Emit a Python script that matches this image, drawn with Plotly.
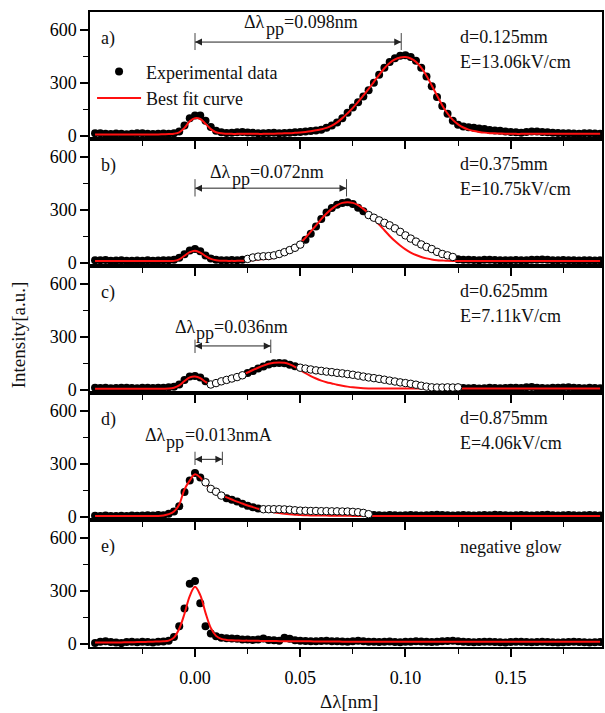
import plotly.graph_objects as go
from plotly.subplots import make_subplots

# ---------------- data ----------------
DL = [-0.0475, -0.045, -0.0425, -0.04, -0.0375, -0.035, -0.0325, -0.03, -0.0275, -0.025,
      -0.0225, -0.02, -0.0175, -0.015, -0.0125, -0.01, -0.0075, -0.005, -0.0025, 0.0,
      0.0025, 0.005, 0.0075, 0.01, 0.0125, 0.015, 0.0175, 0.02, 0.0225, 0.025,
      0.0275, 0.03, 0.0325, 0.035, 0.0375, 0.04, 0.0425, 0.045, 0.0475, 0.05,
      0.0525, 0.055, 0.0575, 0.06, 0.0625, 0.065, 0.0675, 0.07, 0.0725, 0.075,
      0.0775, 0.08, 0.0825, 0.085, 0.0875, 0.09, 0.0925, 0.095, 0.0975, 0.1,
      0.1025, 0.105, 0.1075, 0.11, 0.1125, 0.115, 0.1175, 0.12, 0.1225, 0.125,
      0.1275, 0.13, 0.1325, 0.135, 0.1375, 0.14, 0.1425, 0.145, 0.1475, 0.15,
      0.1525, 0.155, 0.1575, 0.16, 0.1625, 0.165, 0.1675, 0.17, 0.1725, 0.175,
      0.1775, 0.18, 0.1825, 0.185, 0.1875, 0.19, 0.1925]

EXP_A = [14, 15, 12, 10, 13, 11, 9, 12, 15, 14,
         12, 10, 11, 13, 12, 15, 25, 58, 100, 115,
         115, 85, 50, 28, 20, 16, 18, 20, 22, 19,
         17, 15, 14, 16, 17, 15, 16, 18, 20, 22,
         24, 27, 30, 35, 45, 58, 75, 100, 130, 160,
         190, 222, 258, 300, 345, 385, 418, 438, 452, 455,
         445, 425, 385, 335, 280, 220, 168, 125, 85, 62,
         52, 48, 45, 42, 38, 33, 30, 28, 25, 22,
         20, 18, 22, 24, 25, 22, 20, 18, 16, 15,
         14, 13, 12, 14, 15, 13, 12]
FIT_A = [8, 8, 8, 8, 8, 8, 8, 8, 8, 8,
         8, 8, 8, 9, 10, 12, 20, 45, 82, 100,
         95, 68, 38, 20, 14, 12, 11, 11, 11, 11,
         11, 11, 11, 12, 12, 13, 14, 15, 17, 19,
         22, 26, 31, 37, 45, 58, 76, 100, 128, 158,
         192, 228, 265, 305, 345, 382, 412, 432, 443, 445,
         437, 418, 385, 340, 285, 228, 172, 126, 90, 65,
         47, 35, 27, 22, 18, 15, 14, 13, 12, 12,
         11, 11, 11, 11, 11, 11, 11, 11, 11, 11,
         11, 11, 11, 11, 11, 11, 11]

EXP_B = [15, 14, 16, 12, 13, 15, 12, 11, 13, 12,
         14, 12, 13, 15, 14, 18, 28, 48, 70, 78,
         65, 42, 25, 18, 15, 14, 16, 15, 17, 22,
         30, 35, 37, 38, 42, 50, 60, 72, 85, 103,
         130, 165, 205, 248, 285, 310, 328, 338, 342, 332,
         312, 292, 270, 255, 240, 226, 212, 195, 175, 155,
         137, 120, 104, 90, 78, 62, 50, 42, 33, 20,
         18, 17, 16, 15, 17, 18, 16, 15, 14, 15,
         16, 14, 15, 17, 18, 19, 17, 15, 14, 16,
         15, 14, 13, 15, 14, 13, 14]
FIT_B = [10, 10, 10, 10, 10, 10, 10, 10, 10, 10,
         10, 10, 10, 10, 10, 11, 20, 40, 60, 68,
         58, 38, 22, 14, 12, 11, 11, 11, 12, 13,
         15, 18, 21, 24, 29, 38, 52, 68, 88, 112,
         142, 176, 212, 247, 279, 305, 326, 339, 343, 339,
         326, 305, 279, 249, 216, 184, 152, 123, 98, 76,
         58, 44, 33, 25, 19, 15, 13, 11, 10, 10,
         10, 10, 10, 10, 10, 10, 10, 10, 10, 10,
         10, 10, 10, 10, 10, 10, 10, 10, 10, 10,
         10, 10, 10, 10, 10, 10, 10]

EXP_C = [12, 10, 11, 9, 10, 12, 11, 10, 9, 11,
         12, 10, 11, 12, 14, 18, 30, 55, 75, 78,
         70, 48, 30, 38, 48, 56, 64, 72, 82, 95,
         106, 120, 132, 143, 150, 152, 150, 142, 133, 125,
         120, 115, 110, 107, 103, 100, 96, 93, 89, 85,
         80, 75, 70, 66, 62, 57, 52, 47, 42, 38,
         34, 29, 23, 18, 14, 13, 13, 14, 13, 14,
         10, 9, 10, 8, 9, 11, 10, 9, 10, 12,
         11, 10, 14, 16, 12, 10, 9, 11, 12, 13,
         15, 11, 10, 9, 11, 10, 9]
FIT_C = [6, 6, 6, 6, 6, 6, 6, 6, 6, 6,
         6, 6, 6, 6, 7, 12, 25, 50, 70, 75,
         66, 45, 30, 32, 38, 48, 60, 72, 85, 98,
         112, 125, 137, 147, 153, 155, 153, 144, 130, 112,
         94, 78, 64, 52, 43, 36, 29, 23, 18, 14,
         11, 9, 8, 8, 8, 8, 8, 8, 8, 8,
         8, 8, 8, 8, 8, 8, 8, 8, 8, 8,
         8, 8, 8, 8, 8, 8, 8, 8, 8, 8,
         8, 8, 8, 8, 8, 8, 8, 8, 8, 8,
         8, 8, 8, 8, 8, 8, 8]

EXP_D = [6, 5, 7, 5, 4, 6, 5, 7, 6, 8,
         9, 8, 10, 9, 18, 30, 60, 140, 205, 248,
         222, 195, 158, 142, 120, 105, 96, 86, 74, 62,
         54, 47, 43, 43, 43, 43, 42, 40, 37, 35,
         34, 33, 33, 32, 32, 31, 31, 30, 30, 28,
         26, 22, 15, 10, 9, 8, 10, 9, 8, 9,
         10, 9, 8, 9, 10, 11, 10, 9, 8, 9,
         10, 9, 8, 9, 10, 9, 11, 10, 9, 8,
         9, 10, 9, 8, 9, 10, 11, 9, 8, 9,
         10, 9, 8, 9, 10, 9, 8]
FIT_D = [5, 5, 5, 5, 5, 5, 5, 5, 5, 5,
         5, 5, 5, 8, 15, 30, 70, 155, 205, 240,
         222, 185, 160, 142, 125, 110, 98, 86, 75, 64,
         55, 46, 39, 32, 26, 21, 17, 14, 12, 10,
         9, 8, 8, 7, 7, 6, 6, 6, 6, 5,
         5, 5, 5, 5, 5, 5, 5, 5, 5, 5,
         5, 5, 5, 5, 5, 5, 5, 5, 5, 5,
         5, 5, 5, 5, 5, 5, 5, 5, 5, 5,
         5, 5, 5, 5, 5, 5, 5, 5, 5, 5,
         5, 5, 5, 5, 5, 5, 5]

EXP_E = [5, 12, 14, 10, 8, 4, 10, 11, 9, 12,
         10, 8, 11, 13, 18, 38, 100, 200, 340, 355,
         230, 100, 58, 43, 35, 32, 30, 28, 25, 24,
         22, 24, 30, 22, 20, 18, 34, 28, 20, 18,
         16, 15, 14, 16, 18, 15, 14, 13, 12, 15,
         18, 14, 12, 11, 10, 12, 13, 10, 9, 11,
         12, 14, 13, 12, 10, 11, 14, 16, 18, 14,
         12, 10, 9, 10, 11, 12, 10, 9, 8, 10,
         11, 12, 10, 9, 10, 11, 10, 9, 8, 9,
         10, 11, 10, 9, 8, 9, 10]
FIT_E = [8, 8, 8, 8, 8, 8, 9, 9, 10, 10,
         11, 12, 13, 14, 18, 35, 85, 170, 270, 322,
         275, 175, 90, 45, 28, 22, 20, 19, 18, 18,
         17, 17, 16, 16, 16, 15, 15, 15, 14, 14,
         14, 14, 13, 13, 13, 13, 13, 12, 12, 12,
         12, 12, 12, 12, 12, 12, 12, 12, 12, 12,
         12, 12, 12, 12, 12, 12, 12, 12, 12, 12,
         12, 12, 12, 12, 12, 12, 12, 12, 12, 12,
         12, 12, 12, 12, 12, 12, 12, 12, 12, 12,
         12, 12, 12, 12, 12, 12, 12]

# wavelength intervals shown with open circles (points excluded from the fit)
OPEN_A = []
OPEN_B = [(0.025, 0.05), (0.0825, 0.1225)]
OPEN_C = [(0.0075, 0.0225), (0.05, 0.125)]
OPEN_D = [(0.005, 0.0125), (0.0325, 0.0825)]
OPEN_E = []

PANEL_LABELS = ["a)", "b)", "c)", "d)", "e)"]
COND_D = ["d=0.125mm", "d=0.375mm", "d=0.625mm", "d=0.875mm", "negative glow"]
COND_E = ["E=13.06kV/cm", "E=10.75kV/cm", "E=7.11kV/cm", "E=4.06kV/cm", None]
PEAK_SHIFT = [0.098, 0.072, 0.036, 0.013, None]
SHIFT_VALUE = ["=0.098nm", "=0.072nm", "=0.036nm", "=0.013nmA", None]

# ---------------- figure ----------------
FONT = "Liberation Serif, Times New Roman, serif"
panels = [(EXP_A, FIT_A, OPEN_A), (EXP_B, FIT_B, OPEN_B), (EXP_C, FIT_C, OPEN_C),
          (EXP_D, FIT_D, OPEN_D), (EXP_E, FIT_E, OPEN_E)]

fig = make_subplots(rows=5, cols=1, shared_xaxes=True, vertical_spacing=0)

for r, (exp, fit, opn) in enumerate(panels, start=1):
    is_open = [any(lo - 1e-9 <= x <= hi + 1e-9 for lo, hi in opn) for x in DL]
    xf = [x for x, o in zip(DL, is_open) if not o]
    yf = [y for y, o in zip(exp, is_open) if not o]
    xo = [x for x, o in zip(DL, is_open) if o]
    yo = [y for y, o in zip(exp, is_open) if o]
    fig.add_trace(go.Scatter(x=xf, y=yf, mode="markers", name="Experimental data",
                             marker=dict(color="black", size=8, line=dict(width=0)),
                             showlegend=(r == 1)), row=r, col=1)
    fig.add_trace(go.Scatter(x=DL, y=fit, mode="lines", name="Best fit curve",
                             line=dict(color="#ff1010", width=2, shape="spline"),
                             showlegend=(r == 1)), row=r, col=1)
    if xo:
        fig.add_trace(go.Scatter(x=xo, y=yo, mode="markers", showlegend=False,
                                 marker=dict(color="white", size=7.5,
                                             line=dict(color="black", width=1))),
                      row=r, col=1)

fig.update_xaxes(range=[-0.0499, 0.1934], tick0=0, dtick=0.05, tickformat=".2f",
                 ticks="outside", ticklen=8, tickwidth=1.5, tickcolor="black",
                 minor=dict(dtick=0.025, tick0=0, ticks="outside", ticklen=5,
                            tickwidth=1.2, tickcolor="black"),
                 showline=True, linecolor="black", linewidth=1.5, mirror=True,
                 showgrid=False, zeroline=False, ticklabelstandoff=6,
                 tickfont=dict(family=FONT, size=18, color="black"))
fig.update_yaxes(range=[-18, 700], tickvals=[0, 300, 600],
                 ticks="outside", ticklen=8, tickwidth=1.5, tickcolor="black",
                 minor=dict(tickvals=[150, 450], ticks="outside", ticklen=5,
                            tickwidth=1.2, tickcolor="black"),
                 showline=True, linecolor="black", linewidth=1.5, mirror=True,
                 showgrid=False, zeroline=False,
                 tickfont=dict(family=FONT, size=18, color="black"))

# annotation layout (data units of each panel)
ANN_Y = dict(lab=548, d=557, e=418)
SHIFT_GEOM = [  # text y, arrow y, bar low, bar high, x where "pp" starts, x where "=" starts
    (643, 530, 485, 581, 0.0339, 0.0418),
    (513, 422, 375, 473, 0.0178, 0.0257),
    (357, 248, 208, 284, 0.0008, 0.0087),
    (463, 325, 293, 368, -0.0134, -0.0051),
]
SUB_DROP = 38
PP_SHIFT = 0.0007
tf = dict(family=FONT, size=18, color="#111111")
for r in range(1, 6):
    xr = "x" if r == 1 else f"x{r}"
    yr = "y" if r == 1 else f"y{r}"
    i = r - 1
    fig.add_annotation(x=-0.0455, y=ANN_Y["lab"], xref=xr, yref=yr, text=PANEL_LABELS[i],
                       showarrow=False, xanchor="left", font=tf)
    fig.add_annotation(x=0.1251, y=ANN_Y["d"] if r < 5 else 547, xref=xr, yref=yr,
                       text=COND_D[i], showarrow=False, xanchor="left", font=tf)
    if COND_E[i]:
        fig.add_annotation(x=0.1251, y=ANN_Y["e"], xref=xr, yref=yr, text=COND_E[i],
                           showarrow=False, xanchor="left", font=tf)
    if PEAK_SHIFT[i] is not None:
        ty, ay, b0, b1, xpp, xeq = SHIFT_GEOM[i]
        fig.add_annotation(x=xpp, y=ty, xref=xr, yref=yr, text="Δλ", xanchor="right",
                           borderpad=0, showarrow=False, font=tf)
        fig.add_annotation(x=xpp - PP_SHIFT, y=ty - SUB_DROP, xref=xr, yref=yr, text="pp",
                           xanchor="left", borderpad=0, showarrow=False, font=tf)
        fig.add_annotation(x=xeq, y=ty, xref=xr, yref=yr, text=SHIFT_VALUE[i],
                           xanchor="left", borderpad=0, showarrow=False, font=tf)
        # double-headed dimension arrow between the two peak positions
        fig.add_trace(go.Scatter(x=[0.0, PEAK_SHIFT[i]], y=[ay, ay], mode="lines+markers",
                                 showlegend=False, cliponaxis=False,
                                 line=dict(color="#222222", width=1),
                                 marker=dict(symbol=["arrow-left", "arrow-right"], size=7,
                                             color="#222222", line=dict(width=0))),
                      row=r, col=1)
        for bx in (0.0, PEAK_SHIFT[i]):
            fig.add_shape(type="line", x0=bx, x1=bx, y0=b0, y1=b1, xref=xr, yref=yr,
                          line=dict(color="#444444", width=1))

fig.add_annotation(x=-0.165, y=0.491, xref="paper", yref="paper", text="Intensity[a.u.]",
                   textangle=-90, showarrow=False, font=dict(family=FONT, size=19, color="#111111"))
fig.add_annotation(x=0.506, y=-0.105, xref="paper", yref="paper", text="Δλ[nm]",
                   showarrow=False, font=dict(family=FONT, size=19, color="#111111"))

fig.update_layout(
    width=605, height=713,
    margin=dict(l=90, r=1, t=12, b=66),
    paper_bgcolor="white", plot_bgcolor="white",
    showlegend=True,
    legend=dict(x=0.004, y=0.935, xanchor="left", yanchor="top",
                bgcolor="rgba(0,0,0,0)", borderwidth=0, itemwidth=44,
                font=dict(family=FONT, size=18, color="#111111"),
                tracegroupgap=0),
    hovermode=False,
)

fig.write_html("out.html", config={"displayModeBar": False})
